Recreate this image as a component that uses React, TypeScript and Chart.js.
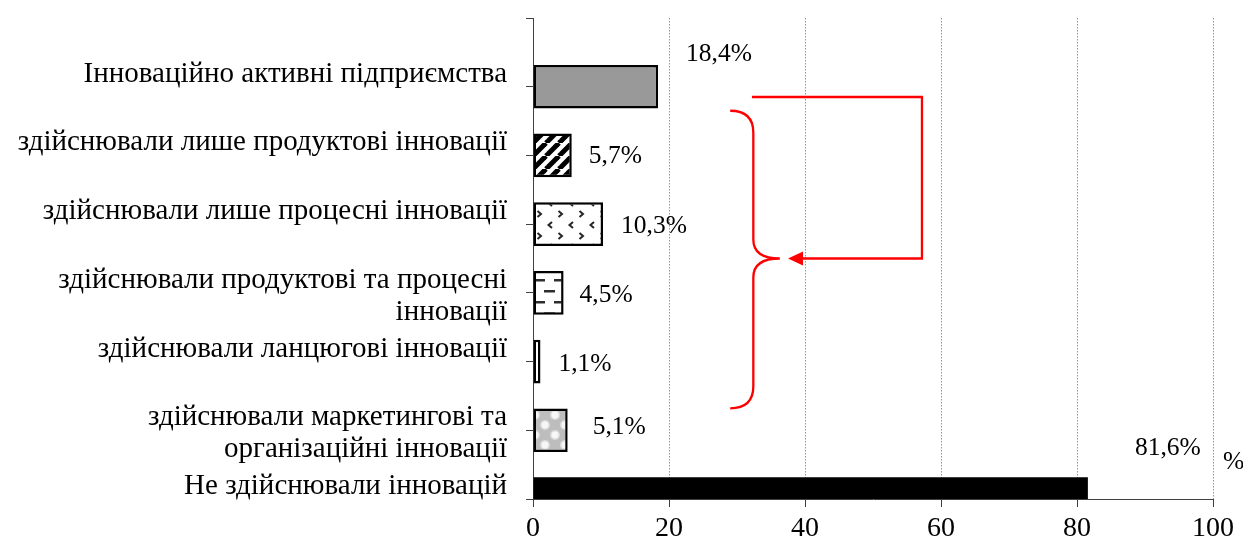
import React, { useEffect, useRef } from "react";
import { Chart, registerables } from "chart.js";

Chart.register(...registerables);

// Category names (top to bottom); the first slot is the empty band above the first bar.
const categories: string[][] = [
  [],
  ["Інноваційно активні підприємства"],
  ["здійснювали лише продуктові інновації"],
  ["здійснювали лише процесні інновації"],
  ["здійснювали продуктові та процесні", "інновації"],
  ["здійснювали ланцюгові інновації"],
  ["здійснювали маркетингові та", "організаційні інновації"],
  ["Не здійснювали інновацій"],
];

// Share of enterprises, %
const shares: (number | null)[] = [null, 18.4, 5.7, 10.3, 4.5, 1.1, 5.1, 81.6];

const xTicks = [0, 20, 40, 60, 80, 100];
const axisUnit = "%";

const SERIF = "'Liberation Serif', 'Times New Roman', Times, serif";

// Where each value label sits, relative to the end of its bar (dx, dy in px)
const labelNudges: [number, number][] = [
  [0, 0],
  [28, -32],
  [17, 1],
  [18, 2],
  [16, 2],
  [18, 3],
  [25, -3],
  [47, -51],
];

const fmtShare = (v: number) => v.toFixed(1).replace(".", ",") + "%";

function tile(
  target: CanvasRenderingContext2D,
  w: number,
  h: number,
  paint: (g: CanvasRenderingContext2D) => void
): CanvasPattern | string {
  const c = document.createElement("canvas");
  c.width = w;
  c.height = h;
  const g = c.getContext("2d")!;
  paint(g);
  return target.createPattern(c, "repeat") || "#fff";
}

function buildFills(ctx: CanvasRenderingContext2D) {
  const stripes = tile(ctx, 13, 13, (g) => {
    g.fillStyle = "#fff";
    g.fillRect(0, 0, 13, 13);
    g.strokeStyle = "#000";
    g.lineWidth = 5;
    for (const o of [-13, 0, 13]) {
      g.beginPath();
      g.moveTo(o, 13);
      g.lineTo(o + 13, 0);
      g.stroke();
    }
  });

  const confetti = tile(ctx, 21, 22, (g) => {
    g.fillStyle = "#fff";
    g.fillRect(0, 0, 21, 22);
    g.strokeStyle = "#262626";
    g.lineWidth = 2;
    // "<" mark
    g.beginPath();
    g.moveTo(6, 2);
    g.lineTo(2.5, 5);
    g.lineTo(6, 8);
    g.stroke();
    // ">" mark
    g.beginPath();
    g.moveTo(12.5, 13);
    g.lineTo(16, 16);
    g.lineTo(12.5, 19);
    g.stroke();
  });

  const dashes = tile(ctx, 20, 22, (g) => {
    g.fillStyle = "#fff";
    g.fillRect(0, 0, 20, 22);
    g.fillStyle = "#2e2e2e";
    g.fillRect(4, 4, 11, 2.5);
    g.fillRect(14, 15, 6, 2.5);
    g.fillRect(0, 15, 5, 2.5);
  });

  const checker = tile(ctx, 20, 20, (g) => {
    g.fillStyle = "#bdbdbd";
    g.fillRect(0, 0, 20, 20);
    const blob = (cx: number, cy: number) => {
      g.fillStyle = "#dcdcdc";
      g.beginPath();
      g.arc(cx, cy, 5, 0, Math.PI * 2);
      g.fill();
      g.fillStyle = "#f7f7f7";
      g.beginPath();
      g.arc(cx, cy, 3.4, 0, Math.PI * 2);
      g.fill();
    };
    for (const [cx, cy] of [
      [5, 5],
      [15, 15],
      [25, 15],
      [-5, 15],
      [15, -5],
      [15, 25],
      [25, 5],
      [5, 25],
      [-5, 5],
      [5, -5],
    ]) {
      blob(cx, cy);
    }
  });

  return ["rgba(0,0,0,0)", "#999999", stripes, confetti, dashes, "#ffffff", checker, "#000000"];
}

const overlay = {
  id: "overlay",
  afterDraw(chart: any) {
    const { ctx, chartArea } = chart;
    const x = chart.scales.x;
    const y = chart.scales.y;
    ctx.save();

    // category names
    ctx.fillStyle = "#000";
    ctx.font = `29px ${SERIF}`;
    ctx.textAlign = "right";
    ctx.textBaseline = "alphabetic";
    categories.forEach((lines, i) => {
      const py = y.getPixelForValue(i);
      lines.forEach((t, k) => ctx.fillText(t, chartArea.left - 26, py - 5 + k * 32));
    });

    // value labels
    const meta = chart.getDatasetMeta(0);
    ctx.font = `25.5px ${SERIF}`;
    ctx.textAlign = "left";
    ctx.textBaseline = "middle";
    shares.forEach((v, i) => {
      if (v == null) return;
      const bar = meta.data[i];
      const [dx, dy] = labelNudges[i];
      ctx.fillText(fmtShare(v), bar.x + dx, bar.y + dy);
    });

    // unit of the value axis
    ctx.fillText(axisUnit, chartArea.right + 10, chartArea.bottom - 37);

    // red brace grouping the innovation types, and the arrow from the top bar
    const X = (v: number) => x.getPixelForValue(v);
    const Y = (v: number) => y.getPixelForValue(v);
    const bx0 = X(29.0);
    const bx1 = X(32.4);
    const bx2 = X(36.3);
    const by0 = Y(1.35);
    const byM = Y(3.5);
    const by1 = Y(5.68);
    const r = 22;
    const rc = 19;
    ctx.strokeStyle = "#ff0000";
    ctx.fillStyle = "#ff0000";
    ctx.lineWidth = 2.3;
    ctx.lineJoin = "miter";
    ctx.beginPath();
    ctx.moveTo(bx0, by0);
    ctx.quadraticCurveTo(bx1, by0, bx1, by0 + r);
    ctx.lineTo(bx1, byM - rc);
    ctx.quadraticCurveTo(bx1, byM, bx2, byM);
    ctx.quadraticCurveTo(bx1, byM, bx1, byM + rc);
    ctx.lineTo(bx1, by1 - r);
    ctx.quadraticCurveTo(bx1, by1, bx0, by1);
    ctx.stroke();

    const ay0 = Y(1.15);
    const ax0 = X(32.2);
    const ax1 = X(57.2);
    const tip = X(37.5);
    ctx.beginPath();
    ctx.moveTo(ax0, ay0);
    ctx.lineTo(ax1, ay0);
    ctx.lineTo(ax1, byM);
    ctx.lineTo(tip + 13, byM);
    ctx.stroke();
    ctx.beginPath();
    ctx.moveTo(tip, byM);
    ctx.lineTo(tip + 15, byM - 7);
    ctx.lineTo(tip + 15, byM + 7);
    ctx.closePath();
    ctx.fill();

    ctx.restore();
  },
};

export default function App() {
  const ref = useRef<HTMLCanvasElement | null>(null);

  useEffect(() => {
    const canvas = ref.current;
    if (!canvas) return;
    const ctx = canvas.getContext("2d")!;
    const fills = buildFills(ctx);
    // solid black bar needs no separate outline
    const borderWidths = shares.map((_, i) => (i === shares.length - 1 ? 0 : 2.5));

    const chart = new Chart(canvas, {
      type: "bar",
      data: {
        labels: categories as any,
        datasets: [
          {
            data: shares as any,
            backgroundColor: fills as any,
            borderColor: "#000",
            borderWidth: borderWidths as any,
            borderSkipped: false,
            barPercentage: 1,
            categoryPercentage: 0.635,
            clip: 0 as any,
          },
        ],
      },
      options: {
        indexAxis: "y",
        animation: false,
        responsive: false,
        devicePixelRatio: 1,
        layout: { padding: { top: 18, right: 30, bottom: 0, left: 0 } },
        plugins: {
          legend: { display: false },
          tooltip: { enabled: false },
        },
        scales: {
          x: {
            type: "linear",
            position: "bottom",
            min: 0,
            max: 100,
            afterBuildTicks: (s: any) => {
              s.ticks = xTicks.map((v) => ({ value: v }));
            },
            afterFit: (s: any) => {
              s.height = 46;
            },
            ticks: {
              color: "#000",
              padding: 5,
              font: { family: SERIF, size: 28 },
            },
            grid: {
              color: (c: any) => (c.index === 0 ? "rgba(0,0,0,0)" : "#959595"),
              lineWidth: 1,
              tickColor: "#404040",
              tickLength: 8,
            },
            border: { color: "#404040", width: 1, dash: [1.5, 1.5] },
          },
          y: {
            type: "category",
            offset: false,
            afterFit: (s: any) => {
              s.width = 533;
            },
            ticks: { display: false },
            grid: {
              offset: false,
              drawOnChartArea: false,
              drawTicks: true,
              tickLength: 7,
              tickColor: "#404040",
              color: "#404040",
            },
            border: { color: "#404040", width: 1 },
          },
        },
      },
      plugins: [overlay],
    });

    return () => chart.destroy();
  }, []);

  return (
    <div style={{ position: "absolute", left: 0, top: 0, width: 1243, height: 545 }}>
      <canvas ref={ref} width={1243} height={545} style={{ display: "block" }} />
    </div>
  );
}
